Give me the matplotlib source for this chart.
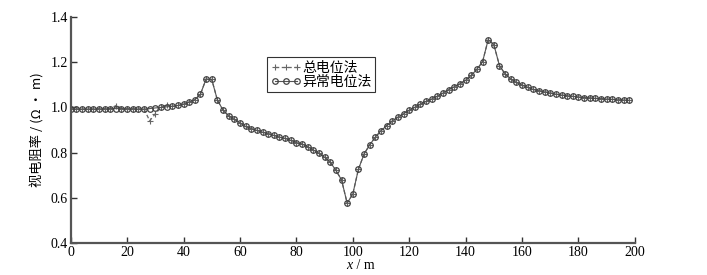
import numpy as np
import matplotlib
matplotlib.use("Agg")
import matplotlib.pyplot as plt

# survey positions (m)
x_pos = np.arange(0, 200, 2)

# apparent resistivity, anomaly potential method
rho_anomaly = [
    0.994, 0.993, 0.993, 0.993, 0.993, 0.994, 0.994, 0.995, 0.995, 0.995,
    0.994, 0.994, 0.993, 0.993, 0.995, 0.998, 1.000, 1.003, 1.005, 1.009,
    1.015, 1.024, 1.034, 1.059, 1.126, 1.124, 1.033, 0.988, 0.963, 0.948,
    0.932, 0.916, 0.906, 0.899, 0.891, 0.884, 0.877, 0.869, 0.863, 0.854,
    0.845, 0.838, 0.826, 0.812, 0.797, 0.780, 0.758, 0.722, 0.680, 0.577,
    0.617, 0.727, 0.794, 0.835, 0.869, 0.897, 0.920, 0.940, 0.957, 0.972,
    0.988, 1.001, 1.015, 1.027, 1.038, 1.050, 1.064, 1.079, 1.092, 1.105,
    1.120, 1.142, 1.169, 1.202, 1.300, 1.278, 1.185, 1.148, 1.126, 1.111,
    1.099, 1.089, 1.080, 1.074, 1.069, 1.064, 1.059, 1.055, 1.052, 1.049,
    1.046, 1.044, 1.042, 1.040, 1.039, 1.037, 1.036, 1.034, 1.033, 1.031,
]

# apparent resistivity, total potential method
rho_total = [
    0.994, 0.993, 0.993, 0.993, 0.993, 0.994, 0.994, 0.995, 1.008, 0.995,
    0.994, 0.994, 0.993, 0.993, 0.941, 0.972, 1.000, 1.012, 1.005, 1.009,
    1.015, 1.024, 1.034, 1.059, 1.126, 1.124, 1.033, 0.988, 0.963, 0.948,
    0.932, 0.916, 0.906, 0.899, 0.891, 0.884, 0.877, 0.869, 0.863, 0.854,
    0.845, 0.838, 0.826, 0.812, 0.797, 0.780, 0.758, 0.722, 0.680, 0.577,
    0.617, 0.727, 0.794, 0.835, 0.869, 0.897, 0.920, 0.940, 0.957, 0.972,
    0.988, 1.001, 1.015, 1.027, 1.038, 1.050, 1.064, 1.079, 1.092, 1.105,
    1.120, 1.142, 1.169, 1.202, 1.300, 1.278, 1.185, 1.148, 1.126, 1.111,
    1.099, 1.089, 1.080, 1.074, 1.069, 1.064, 1.059, 1.055, 1.052, 1.049,
    1.046, 1.044, 1.042, 1.040, 1.039, 1.037, 1.036, 1.034, 1.033, 1.031,
]

x_ticks = [0, 20, 40, 60, 80, 100, 120, 140, 160, 180, 200]
y_ticks = [0.4, 0.6, 0.8, 1.0, 1.2, 1.4]

cjk = ['Noto Sans CJK SC', 'DejaVu Sans']
serif = 'Liberation Serif'

fig = plt.figure(figsize=(7.07, 2.75), dpi=100)
ax = fig.add_axes([0.100, 0.116, 0.798, 0.822])

ax.plot(x_pos, rho_total, ls=(0, (3, 2)), color='#666666', lw=0.9,
        marker='+', ms=5, mew=0.8, mec='#666666', label='总电位法')
ax.plot(x_pos, rho_anomaly, ls='-', color='#555555', lw=0.8,
        marker='o', ms=4, mew=0.9, mfc='none', mec='#444444', label='异常电位法')

ax.set_xlim(0, 200)
ax.set_ylim(0.4, 1.4)
ax.set_xticks(x_ticks)
ax.set_yticks(y_ticks)
ax.set_xticklabels([str(v) for v in x_ticks], fontfamily=serif, fontsize=10)
ax.set_yticklabels(['%.1f' % v for v in y_ticks], fontfamily=serif, fontsize=10)
ax.tick_params(direction='in', length=4, width=1, color='#333333', pad=2)

for side in ['top', 'right']:
    ax.spines[side].set_visible(False)
for side in ['left', 'bottom']:
    ax.spines[side].set_linewidth(1.6)
    ax.spines[side].set_color('#555555')

# x label: italic x, upright unit
ax.set_xlabel('')
fig.text(0.4985, 0.012, 'x', fontfamily=serif, fontstyle='italic',
         fontsize=10, ha='right', va='bottom')
fig.text(0.4995, 0.012, ' / m', fontfamily=serif, fontsize=10,
         ha='left', va='bottom')
ax.set_ylabel('视电阻率 / (Ω · m)', fontfamily=cjk, fontsize=9.5, labelpad=4)

leg = ax.legend(loc='upper left', bbox_to_anchor=(0.348, 0.823), numpoints=3,
                prop={'family': cjk, 'size': 10}, frameon=True, fancybox=False,
                handlelength=2.2, handletextpad=0.1, borderpad=0.25,
                labelspacing=0.0, borderaxespad=0)
leg.get_frame().set_edgecolor('black')
leg.get_frame().set_linewidth(0.8)

fig.savefig('out.png', dpi=100)
